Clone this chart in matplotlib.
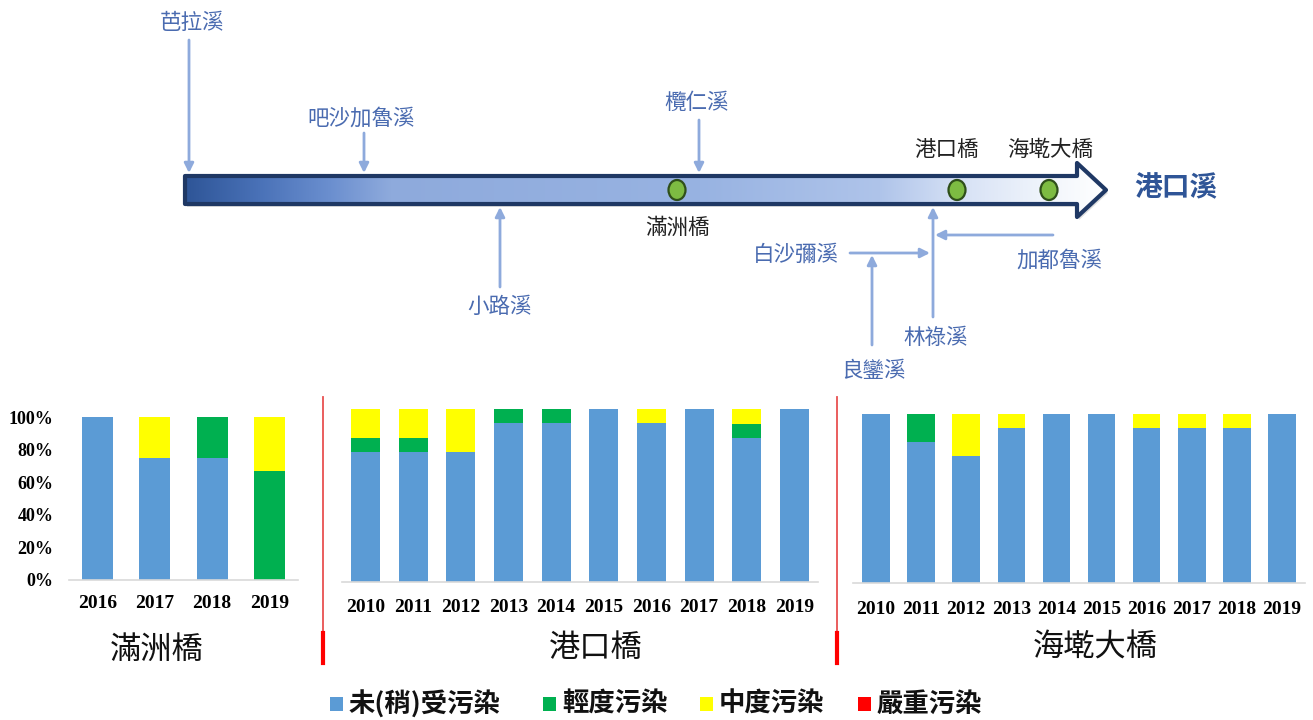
import matplotlib
matplotlib.use("Agg")
import matplotlib.pyplot as plt
import numpy as np
from matplotlib.patches import Polygon, Ellipse, Rectangle
from matplotlib.colors import to_rgb

CJK = ["Noto Sans CJK TC", "DejaVu Sans"]
SERIF = ["Liberation Serif", "DejaVu Serif"]

# ---- data (percent of samples per pollution class) ----
categories = ["未(稍)受污染", "輕度污染", "中度污染", "嚴重污染"]
colors = ["#5B9BD5", "#00B050", "#FFFF00", "#FF0000"]

man_years = ["2016", "2017", "2018", "2019"]
man_clean = [100, 75, 75, 0]
man_light = [0, 0, 25, 66.7]
man_mod = [0, 25, 0, 33.3]
man_severe = [0, 0, 0, 0]

gk_years = ["2010", "2011", "2012", "2013", "2014", "2015", "2016", "2017", "2018", "2019"]
gk_clean = [75, 75, 75, 91.7, 91.7, 100, 91.7, 100, 83.3, 100]
gk_light = [8.3, 8.3, 0, 8.3, 8.3, 0, 0, 0, 8.3, 0]
gk_mod = [16.7, 16.7, 25, 0, 0, 0, 8.3, 0, 8.3, 0]
gk_severe = [0] * 10

hd_years = ["2010", "2011", "2012", "2013", "2014", "2015", "2016", "2017", "2018", "2019"]
hd_clean = [100, 83.3, 75, 91.7, 100, 100, 91.7, 91.7, 91.7, 100]
hd_light = [0, 16.7, 0, 0, 0, 0, 0, 0, 0, 0]
hd_mod = [0, 0, 25, 8.3, 0, 0, 8.3, 8.3, 8.3, 0]
hd_severe = [0] * 10

panel_titles = ["滿洲橋", "港口橋", "海墘大橋"]

# river schematic names
tributaries = ["芭拉溪", "吧沙加魯溪", "欖仁溪", "小路溪", "白沙彌溪", "良鑾溪", "林祿溪", "加都魯溪"]
stations = ["滿洲橋", "港口橋", "海墘大橋"]
river_name = "港口溪"

W, H = 1313, 720
fig = plt.figure(figsize=(W / 100, H / 100), dpi=100)


def px_axes(x0, x1, y_bottom, y_top):
    return fig.add_axes([x0 / W, (H - y_bottom) / H, (x1 - x0) / W, (y_bottom - y_top) / H])


def stacked(ax, years, series, width, pad):
    x = np.arange(len(years))
    bottom = np.zeros(len(years))
    for vals, c in zip(series, colors):
        vals = np.array(vals, dtype=float)
        ax.bar(x, vals, width, bottom=bottom, color=c, linewidth=0)
        bottom += vals
    ax.set_xlim(-0.5, len(years) - 0.5)
    ax.set_ylim(0, 100)
    ax.set_xticks(x)
    ax.set_xticklabels(years, fontfamily=SERIF, fontweight="bold", fontsize=14)
    ax.tick_params(axis="x", length=0, pad=pad)
    for s in ["top", "right", "left"]:
        ax.spines[s].set_visible(False)
    ax.spines["bottom"].set_color("#D9D9D9")
    ax.spines["bottom"].set_linewidth(1.2)


ax1 = px_axes(69, 298, 580, 417)
stacked(ax1, man_years, [man_clean, man_light, man_mod, man_severe], 0.54, 11)
ax1.set_yticks([0, 20, 40, 60, 80, 100])
ax1.set_yticklabels([f"{v}%" for v in [0, 20, 40, 60, 80, 100]],
                    fontfamily=SERIF, fontweight="bold", fontsize=13)
ax1.tick_params(axis="y", length=0, pad=11)

ax2 = px_axes(341.7, 818.3, 582, 409)
stacked(ax2, gk_years, [gk_clean, gk_light, gk_mod, gk_severe], 0.61, 12.5)
ax2.set_yticks([])

ax3 = px_axes(853.5, 1304.5, 582.7, 414)
stacked(ax3, hd_years, [hd_clean, hd_light, hd_mod, hd_severe], 0.61, 13)
ax3.set_yticks([])

# ---- overlay in pixel coordinates ----
ov = fig.add_axes([0, 0, 1, 1])
ov.set_xlim(0, W)
ov.set_ylim(H, 0)
ov.axis("off")

# river arrow shape
shape = [(185, 176), (1077, 176), (1077, 163), (1106, 190), (1077, 217),
         (1077, 204), (185, 204)]
shadow = Polygon([(x + 2, y + 3) for x, y in shape], closed=True,
                 facecolor="#C8C8C8", edgecolor="none", alpha=0.6)
ov.add_patch(shadow)
stops_x = [185, 260, 330, 390, 700, 880, 960, 1050, 1106]
stops_c = ["#2E5597", "#4A72B8", "#6B8FCF", "#8EAADC", "#98B3E2", "#AFC4EA",
           "#D6E1F5", "#F2F6FC", "#FFFFFF"]
xs = np.linspace(185, 1106, 600)
rgb = np.array([to_rgb(c) for c in stops_c])
grad = np.stack([np.interp(xs, stops_x, rgb[:, k]) for k in range(3)], axis=-1)[None, :, :]
body = Polygon(shape, closed=True, facecolor="none", edgecolor="#1F3864",
               linewidth=3, joinstyle="round")
ov.add_patch(body)
im = ov.imshow(grad, extent=(185, 1106, 218, 162), aspect="auto", zorder=1)
im.set_clip_path(body)
body.set_zorder(2)
ov.set_xlim(0, W)
ov.set_ylim(H, 0)

# monitoring stations
st_pos = [(677, 190), (957, 190), (1049, 190)]
for x, y in st_pos:
    ov.add_patch(Ellipse((x, y), 17, 20, facecolor="#7DBB42", edgecolor="#2F4F1A",
                         linewidth=1.6, zorder=3))
st_lbl = [(677, 228), (947, 150), (1050, 150)]
for name, (x, y) in zip(stations, st_lbl):
    ov.text(x, y, name, family=CJK, fontsize=15.5, color="#222222",
            ha="center", va="center")

ov.text(1176, 188, river_name, family=CJK, fontsize=20, fontweight="bold",
        color="#2F5597", ha="center", va="center")

# tributary inflows: (start, end) arrows and label positions
arr_col = "#8EAADC"
trib_arrows = [((189, 40), (189, 173)), ((364, 133), (364, 173)),
               ((699, 120), (699, 173)), ((500, 287), (500, 207)),
               ((850, 253), (930, 253)), ((872, 345), (872, 255)),
               ((933, 317), (933, 207)), ((1053, 235), (935, 235))]
for (x0, y0), (x1, y1) in trib_arrows:
    ov.annotate("", xy=(x1, y1), xytext=(x0, y0),
                arrowprops=dict(arrowstyle="-|>", color=arr_col, lw=2,
                                mutation_scale=14, shrinkA=0, shrinkB=0), zorder=2)
trib_lbl = [(192, 23), (361, 119), (697, 103), (500, 307), (796, 255),
            (873, 371), (936, 338), (1059, 261)]
for name, (x, y) in zip(tributaries, trib_lbl):
    ov.text(x, y, name, family=CJK, fontsize=15.5, color="#4A6BB0",
            ha="center", va="center")

# panel separators
for x in [323, 837]:
    ov.plot([x, x], [397, 633], color="#E85050", lw=1.3)
    ov.plot([x, x], [633, 663], color="#FF0000", lw=3)

# panel captions
for name, (x, y) in zip(panel_titles, [(157, 650), (596, 648), (1095, 648)]):
    ov.text(x, y, name, family=CJK, fontsize=22.5, color="#111111",
            ha="center", va="center")

# legend
leg_sq = [330, 543, 700, 858]
for lab, c, x in zip(categories, colors, leg_sq):
    ov.add_patch(Rectangle((x, 697), 13, 14, facecolor=c, edgecolor="none"))
    ov.text(x + 19, 704.5, lab, family=CJK, fontsize=19, fontweight="bold",
            color="#111111", ha="left", va="center")

fig.savefig("out.png", dpi=100, facecolor="white")
